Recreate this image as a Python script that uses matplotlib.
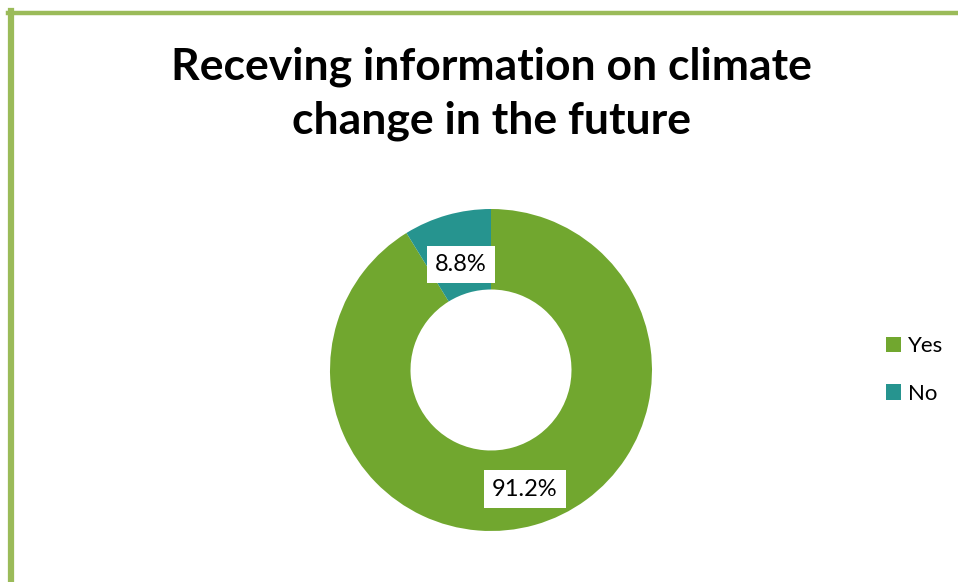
import numpy as np
import matplotlib.pyplot as plt
from matplotlib.lines import Line2D

categories = ["Yes", "No"]
shares = [91.2, 8.8]
colors = ["#71A72F", "#26948F"]
title = "Receving information on climate\nchange in the future"

W, H = 958, 582
fig = plt.figure(figsize=(W / 100, H / 100), dpi=100)
plt.rcParams['font.family'] = ['Lato', 'DejaVu Sans']

# chart frame (top and left edges)
fig.add_artist(Line2D([8 / W, 1], [1 - 13 / H, 1 - 13 / H], color="#9BBB59", lw=3.2))
fig.add_artist(Line2D([11 / W, 11 / W], [0, 1 - 11 / H], color="#9BBB59", lw=4.5))

fig.text(491 / W, 1 - 94 / H, title, ha="center", va="center",
         fontsize=32, fontweight="bold", linespacing=1.4)

# donut axes: one data unit = one pixel
R = 161
cx, cy = 491, H - 370
half = 180
ax = fig.add_axes([(cx - half) / W, (cy - half) / H, 2 * half / W, 2 * half / H])

wedges, _ = ax.pie(shares, colors=colors, startangle=90, counterclock=False,
                   radius=R, wedgeprops=dict(width=R * 0.5, linewidth=0))
ax.set_xlim(-half, half)
ax.set_ylim(-half, half)
ax.set_aspect("equal")
ax.axis("off")

label_r = [0.77, 0.68]
for w, v, fr in zip(wedges, shares, label_r):
    mid = np.deg2rad((w.theta1 + w.theta2) / 2)
    ax.text(R * fr * np.cos(mid), R * fr * np.sin(mid), f"{v}%",
            ha="center", va="center", fontsize=17,
            bbox=dict(boxstyle="square,pad=0.35", fc="white", ec="none"))

fig.legend(wedges, categories, loc="center left",
           bbox_to_anchor=(877 / W, 1 - 370 / H), frameon=False,
           fontsize=16, handlelength=0.7, handleheight=0.7,
           handletextpad=0.3, labelspacing=1.25, borderaxespad=0)

fig.savefig("out.png", dpi=100, facecolor="white")
